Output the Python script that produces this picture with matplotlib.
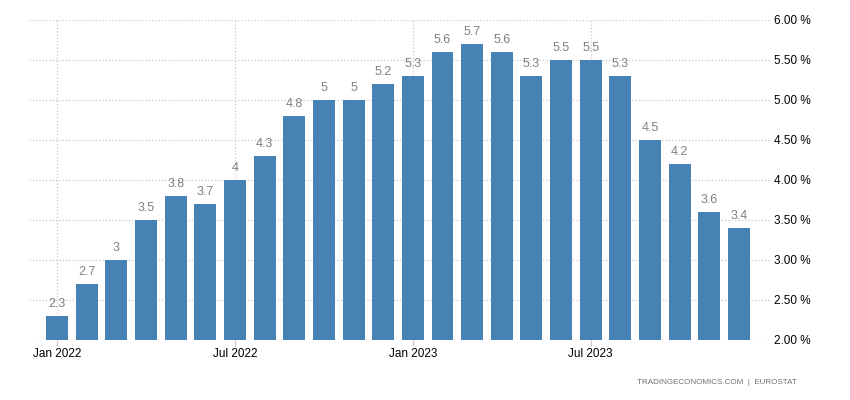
import numpy as np
import matplotlib
matplotlib.use('Agg')
import matplotlib.pyplot as plt

plt.rcParams['font.family'] = ['Liberation Sans', 'DejaVu Sans']

# monthly values, Jan 2022 .. Dec 2023
months = ['Jan 2022', 'Feb 2022', 'Mar 2022', 'Apr 2022', 'May 2022', 'Jun 2022',
          'Jul 2022', 'Aug 2022', 'Sep 2022', 'Oct 2022', 'Nov 2022', 'Dec 2022',
          'Jan 2023', 'Feb 2023', 'Mar 2023', 'Apr 2023', 'May 2023', 'Jun 2023',
          'Jul 2023', 'Aug 2023', 'Sep 2023', 'Oct 2023', 'Nov 2023', 'Dec 2023']
values = [2.3, 2.7, 3, 3.5, 3.8, 3.7, 4, 4.3, 4.8, 5, 5, 5.2,
          5.3, 5.6, 5.7, 5.6, 5.3, 5.5, 5.5, 5.3, 4.5, 4.2, 3.6, 3.4]
tick_labels = ['Jan 2022', 'Jul 2022', 'Jan 2023', 'Jul 2023']
yticks = [2.0, 2.5, 3.0, 3.5, 4.0, 4.5, 5.0, 5.5, 6.0]

fig = plt.figure(figsize=(8.5, 4), dpi=100)
ax = fig.add_axes([0.034, 0.15, 0.872, 0.80])

x = np.arange(len(values))
ax.bar(x, values, width=0.74, color='#4682b4', zorder=2)

for xi, v in zip(x, values):
    ax.text(xi, v + 0.07, '{:g}'.format(v), ha='center', va='bottom',
            fontsize=9, color='#808080', zorder=3)

ax.set_ylim(2.0, 6.0)
ax.set_xlim(-0.95, 24.05)
ax.set_yticks(yticks)
ax.set_yticklabels(['{:.2f} %'.format(t) for t in yticks])
ax.yaxis.tick_right()
ax.set_xticks([months.index(t) for t in tick_labels])
ax.set_xticklabels(tick_labels)

ax.grid(True, color='#c8c8c8', linestyle=':', linewidth=0.9, zorder=0)
for s in ax.spines.values():
    s.set_visible(False)
ax.tick_params(axis='y', length=0, pad=3, labelsize=8.5, labelcolor='black')
ax.tick_params(axis='x', length=4, color='#c8c8c8', pad=2, labelsize=8.5, labelcolor='black')

fig.text(0.938, 0.043, 'TRADINGECONOMICS.COM  |  EUROSTAT', ha='right', va='center',
         fontsize=5.8, color='#707070')

fig.savefig('out.png', dpi=100)
